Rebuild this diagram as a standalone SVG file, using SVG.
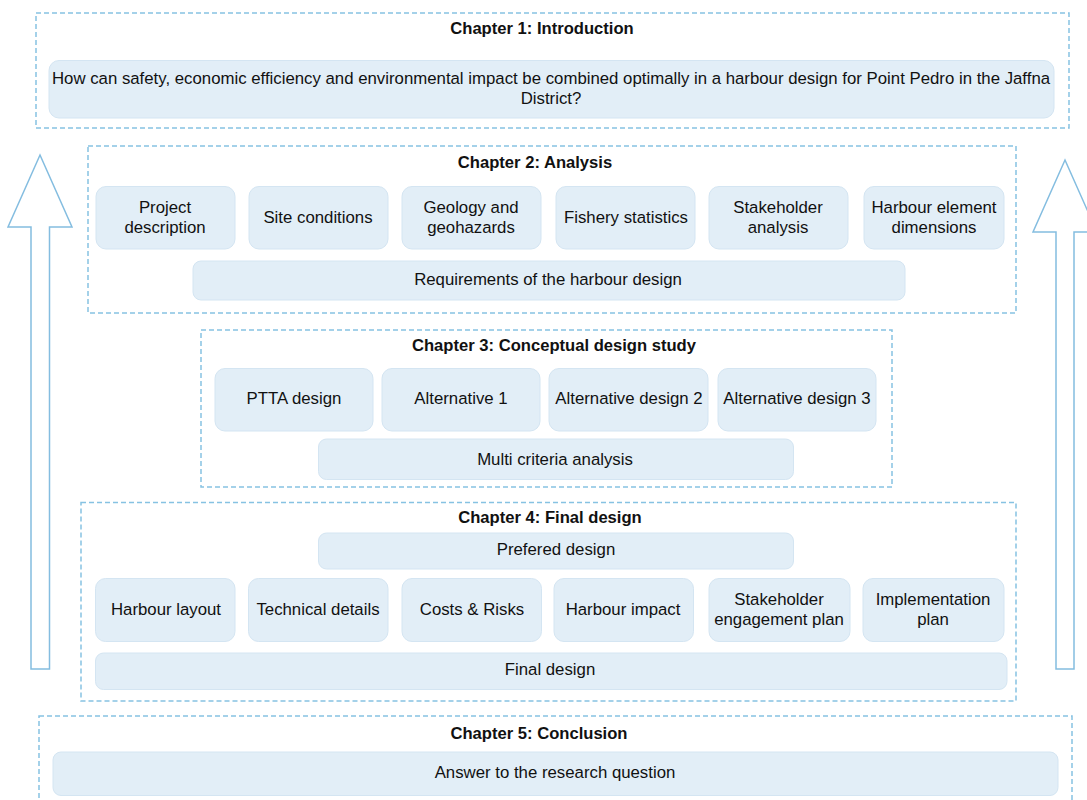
<svg xmlns="http://www.w3.org/2000/svg" width="1087" height="800" viewBox="0 0 1087 800">
<style>
.ch{fill:none;stroke:#86c2e2;stroke-width:1.5;stroke-dasharray:5 3}
.bx{fill:#e2eef7;stroke:#d4e5f2;stroke-width:1}
.t{font-family:"Liberation Sans",Arial,sans-serif;font-size:16.8px;fill:#111;text-anchor:middle;dominant-baseline:central}
.h{font-family:"Liberation Sans",Arial,sans-serif;font-size:16.6px;font-weight:bold;fill:#111;text-anchor:middle;dominant-baseline:central}
.ar{fill:#fff;stroke:#84bde0;stroke-width:1.5}
</style>
<rect width="1087" height="800" fill="#fff"/>
<g id="arrows">
<polygon class="ar" points="40,155 72,227 49.5,227 49.5,669 31,669 31,227 8,227"/>
<polygon class="ar" points="1065,160 1097,232 1074,232 1074,669 1056,669 1056,232 1033,232"/>
</g>
<g id="chapter1">
<rect class="ch" x="36" y="13" width="1033" height="115"/>
<text class="h" x="542" y="28">Chapter 1: Introduction</text>
<g id="rq"><rect class="bx" x="49" y="60.5" width="1005" height="57.5" rx="10"/>
<text class="t" x="551" y="78">How can safety, economic efficiency and environmental impact be combined optimally in a harbour design for Point Pedro in the Jaffna</text>
<text class="t" x="551" y="98">District?</text></g>
</g>
<g id="chapter2">
<rect class="ch" x="88" y="146" width="928" height="167"/>
<text class="h" x="535" y="162">Chapter 2: Analysis</text>
<g id="c2a"><rect class="bx" x="96" y="186.5" width="139" height="62.5" rx="10"/><text class="t" x="165" y="207">Project</text><text class="t" x="165" y="227">description</text></g>
<g id="c2b"><rect class="bx" x="249" y="186.5" width="139" height="62.5" rx="10"/><text class="t" x="318" y="217">Site conditions</text></g>
<g id="c2c"><rect class="bx" x="402" y="186.5" width="139" height="62.5" rx="10"/><text class="t" x="471" y="207">Geology and</text><text class="t" x="471" y="227">geohazards</text></g>
<g id="c2d"><rect class="bx" x="556" y="186.5" width="139" height="62.5" rx="10"/><text class="t" x="626" y="217">Fishery statistics</text></g>
<g id="c2e"><rect class="bx" x="709" y="186.5" width="139" height="62.5" rx="10"/><text class="t" x="778" y="207">Stakeholder</text><text class="t" x="778" y="227">analysis</text></g>
<g id="c2f"><rect class="bx" x="864" y="186.5" width="140" height="62.5" rx="10"/><text class="t" x="934" y="207">Harbour element</text><text class="t" x="934" y="227">dimensions</text></g>
<g id="c2g"><rect class="bx" x="193" y="261" width="712" height="39" rx="8"/><text class="t" x="548" y="279">Requirements of the harbour design</text></g>
</g>
<g id="chapter3">
<rect class="ch" x="201" y="330" width="691" height="157"/>
<text class="h" x="554" y="345">Chapter 3: Conceptual design study</text>
<g id="c3a"><rect class="bx" x="215" y="368.5" width="158" height="62.5" rx="10"/><text class="t" x="294" y="398">PTTA design</text></g>
<g id="c3b"><rect class="bx" x="382" y="368.5" width="158" height="62.5" rx="10"/><text class="t" x="461" y="398">Alternative 1</text></g>
<g id="c3c"><rect class="bx" x="549" y="368.5" width="159" height="62.5" rx="10"/><text class="t" x="629" y="398">Alternative design 2</text></g>
<g id="c3d"><rect class="bx" x="718" y="368.5" width="158" height="62.5" rx="10"/><text class="t" x="797" y="398">Alternative design 3</text></g>
<g id="c3e"><rect class="bx" x="318.5" y="439" width="475" height="40.5" rx="8"/><text class="t" x="555" y="459">Multi criteria analysis</text></g>
</g>
<g id="chapter4">
<rect class="ch" x="81" y="502.5" width="935" height="198.5"/>
<text class="h" x="550" y="517">Chapter 4: Final design</text>
<g id="c4p"><rect class="bx" x="318.5" y="533" width="475" height="36" rx="8"/><text class="t" x="556" y="549">Prefered design</text></g>
<g id="c4a"><rect class="bx" x="95.5" y="578.5" width="139.5" height="63" rx="10"/><text class="t" x="166" y="609">Harbour layout</text></g>
<g id="c4b"><rect class="bx" x="248.5" y="578.5" width="139.5" height="63" rx="10"/><text class="t" x="318" y="609">Technical details</text></g>
<g id="c4c"><rect class="bx" x="402" y="578.5" width="139.5" height="63" rx="10"/><text class="t" x="472" y="609">Costs &amp; Risks</text></g>
<g id="c4d"><rect class="bx" x="554" y="578.5" width="139.5" height="63" rx="10"/><text class="t" x="623" y="609">Harbour impact</text></g>
<g id="c4e"><rect class="bx" x="709" y="578.5" width="141" height="63" rx="10"/><text class="t" x="779" y="599">Stakeholder</text><text class="t" x="779" y="619">engagement plan</text></g>
<g id="c4f"><rect class="bx" x="863" y="578.5" width="141" height="63" rx="10"/><text class="t" x="933" y="599">Implementation</text><text class="t" x="933" y="619">plan</text></g>
<g id="c4g"><rect class="bx" x="95.5" y="653" width="911.5" height="36.5" rx="8"/><text class="t" x="550" y="669">Final design</text></g>
</g>
<g id="chapter5">
<rect class="ch" x="39" y="716" width="1033" height="100"/>
<text class="h" x="539" y="733">Chapter 5: Conclusion</text>
<g id="c5a"><rect class="bx" x="53" y="752" width="1005" height="43.5" rx="8"/><text class="t" x="555" y="772">Answer to the research question</text></g>
</g>
</svg>
